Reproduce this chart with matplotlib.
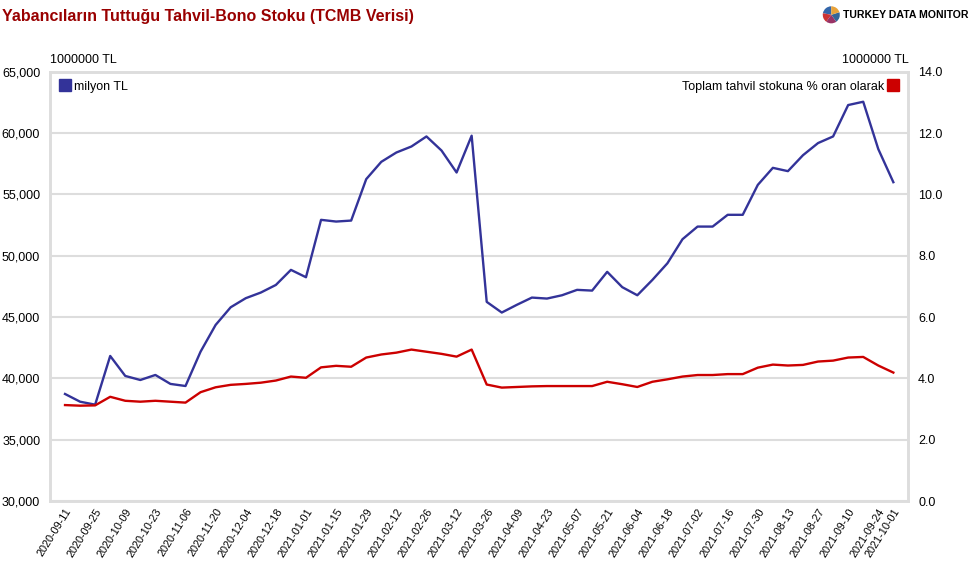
import numpy as np
import pandas as pd
import matplotlib
matplotlib.use('Agg')
from matplotlib import pyplot as plt
from matplotlib.lines import Line2D

# weekly data, 2020-09-11 .. 2021-10-01
dates = pd.date_range('2020-09-11', '2021-10-01', freq='7D').strftime('%Y-%m-%d').tolist()

stock_mn_tl = [38730, 38100, 37860, 41830, 40200, 39870, 40280, 39550, 39380, 42180,
               44360, 45800, 46540, 47000, 47620, 48850, 48250, 52930, 52790, 52870,
               56250, 57660, 58420, 58910, 59730, 58580, 56790, 59790, 46240, 45370,
               46000, 46590, 46510, 46780, 47220, 47160, 48690, 47440, 46780, 48030,
               49390, 51350, 52380, 52380, 53340, 53340, 55780, 57170, 56900, 58200,
               59190, 59730, 62290, 62560, 58700, 56000]

share_pct = [3.13, 3.11, 3.12, 3.40, 3.27, 3.24, 3.27, 3.24, 3.21, 3.55,
             3.71, 3.79, 3.82, 3.86, 3.93, 4.06, 4.02, 4.36, 4.41, 4.38,
             4.68, 4.78, 4.84, 4.94, 4.87, 4.80, 4.71, 4.94, 3.80, 3.70,
             3.72, 3.74, 3.75, 3.75, 3.75, 3.75, 3.89, 3.81, 3.72, 3.89,
             3.97, 4.06, 4.11, 4.11, 4.14, 4.14, 4.35, 4.45, 4.42, 4.44,
             4.55, 4.58, 4.68, 4.70, 4.42, 4.19]

left_ticks = [30000, 35000, 40000, 45000, 50000, 55000, 60000, 65000]
right_ticks = [0, 2, 4, 6, 8, 10, 12, 14]

BLUE = '#333399'
RED = '#cc0000'
GRID = '#dddddd'

plt.rcParams['font.family'] = ['Liberation Sans', 'DejaVu Sans']

fig = plt.figure(figsize=(9.7, 5.7), dpi=100)
ax = fig.add_axes([0.0515, 0.121, 0.885, 0.753])
ax2 = ax.twinx()

x = np.arange(len(dates))
ax.plot(x, stock_mn_tl, color=BLUE, lw=1.7, zorder=3)
ax2.plot(x, share_pct, color=RED, lw=1.7, zorder=3)

ax.set_xlim(-1, len(dates))
ax.set_ylim(30000, 65000)
ax2.set_ylim(0, 14)
ax.set_yticks(left_ticks)
ax.set_yticklabels([f'{v:,}' for v in left_ticks])
ax2.set_yticks(right_ticks)
ax2.set_yticklabels([f'{v:.1f}' for v in right_ticks])
ax.grid(axis='y', color=GRID, lw=1.5)
ax.set_axisbelow(True)

tick_idx = list(range(0, len(dates), 2)) + [len(dates) - 1]
ax.set_xticks(tick_idx)
ax.set_xticklabels([dates[i] for i in tick_idx], rotation=58, ha='right',
                   rotation_mode='anchor', fontsize=7.8)

for a in (ax, ax2):
    a.tick_params(length=0, labelsize=9, pad=7)
    for s in a.spines.values():
        s.set_color(GRID)
        s.set_linewidth(1.8)
ax.tick_params(axis='x', labelsize=7.8, pad=4)

ax.text(0.0, 1.013, '1000000 TL', transform=ax.transAxes, fontsize=9, ha='left', va='bottom')
ax2.text(1.0, 1.013, '1000000 TL', transform=ax2.transAxes, fontsize=9, ha='right', va='bottom')

h1 = [Line2D([], [], marker='s', ls='none', color=BLUE, markersize=8)]
h2 = [Line2D([], [], marker='s', ls='none', color=RED, markersize=8)]
leg1 = ax2.legend(h1, ['milyon TL'], loc='upper left', frameon=False, fontsize=9,
                  handletextpad=0.2, borderaxespad=0.3, handlelength=1.0)
ax2.add_artist(leg1)
ax2.legend(h2, ['Toplam tahvil stokuna % oran olarak'], loc='upper right', frameon=False,
           fontsize=9, markerfirst=False, handletextpad=0.2, borderaxespad=0.3, handlelength=1.0)

fig.text(0.002, 0.985, 'Yabancıların Tuttuğu Tahvil-Bono Stoku (TCMB Verisi)', color='#990000',
         fontsize=11.5, fontweight='bold', ha='left', va='top')

# logo
lax = fig.add_axes([0.846, 0.955, 0.022, 0.038])
lax.pie([22, 18, 20, 20, 20], colors=['#3366aa', '#cc3333', '#993366', '#336699', '#e8a23a'],
        startangle=90)
lax.set_aspect('equal')
fig.text(0.869, 0.974, 'TURKEY DATA MONITOR', fontsize=7.6, fontweight='bold', ha='left',
         va='center')

fig.savefig('out.png', dpi=100)
